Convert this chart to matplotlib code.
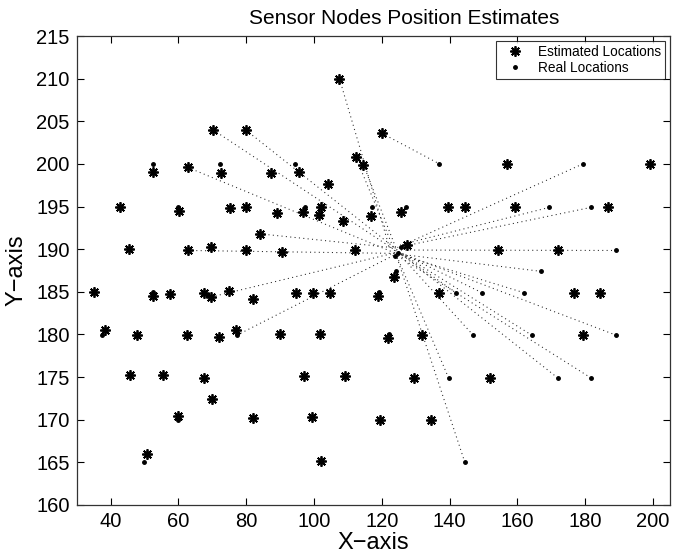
import matplotlib
matplotlib.use("Agg")
import matplotlib.pyplot as plt

plt.rcParams['font.family'] = ['Liberation Sans', 'DejaVu Sans']

# Estimated locations (asterisks)
est_x = [107.5, 120.0, 70.2, 79.8, 52.6, 62.7, 72.5, 87.3, 95.6, 112.3, 114.6, 104.0, 157.0, 199.2,
         42.7, 60.1, 75.3, 80.0, 89.2, 96.7, 102.2, 101.4, 108.7, 116.8, 125.8, 139.4, 144.5, 159.4, 186.8,
         45.3, 62.7, 69.7, 80.0, 84.0, 90.7, 112.1, 127.5, 154.4, 171.9, 123.6,
         35.1, 52.4, 57.5, 67.5, 69.7, 74.8, 82.1, 94.8, 99.7, 104.6, 119.0, 136.8, 176.7, 184.3,
         38.5, 47.9, 62.4, 72.1, 77.0, 90.0, 101.7, 121.7, 131.9, 179.2,
         45.6, 55.4, 67.5, 69.9, 97.0, 109.2, 129.5, 151.8,
         59.8, 82.1, 99.5, 119.6, 134.4, 50.7, 102.2]
est_y = [210.0, 203.6, 204.0, 204.0, 199.0, 199.6, 198.9, 198.9, 199.1, 200.8, 199.9, 197.6, 200.0, 200.0,
         195.0, 194.5, 194.8, 194.9, 194.3, 194.4, 195.0, 194.0, 193.3, 193.9, 194.4, 195.0, 194.9, 194.9, 194.9,
         190.0, 189.85, 190.2, 189.85, 191.8, 189.7, 189.9, 190.5, 189.85, 189.85, 186.7,
         185.0, 184.5, 184.7, 184.9, 184.4, 185.1, 184.2, 184.9, 184.9, 184.9, 184.5, 184.9, 184.9, 184.9,
         180.5, 179.9, 179.9, 179.7, 180.5, 180.0, 180.1, 179.6, 179.9, 179.9,
         175.2, 175.2, 174.9, 172.4, 175.1, 175.1, 174.9, 174.9,
         170.4, 170.2, 170.3, 170.0, 170.0, 166.0, 165.2]

# Real locations (dots)
real_x = [52.4, 72.3, 94.3, 137.0, 179.3, 60.0, 97.3, 117.2, 127.1, 169.4, 181.7,
          189.2, 167.0, 124.3, 52.4, 119.3, 141.9, 149.5, 161.9,
          37.5, 77.2, 122.0, 147.0, 164.3, 189.2,
          139.7, 171.9, 181.7, 60.0, 49.9, 144.5,
          124.8, 125.6, 123.9]
real_y = [200.0, 200.0, 200.0, 200.0, 200.0, 195.0, 194.9, 194.9, 195.0, 194.9, 194.9,
          189.85, 187.4, 187.4, 185.0, 185.0, 184.9, 184.9, 184.9,
          179.9, 179.9, 180.0, 179.9, 179.9, 179.9,
          174.9, 174.9, 174.9, 170.0, 165.0, 165.0,
          189.6, 190.2, 189.2]

# Dotted error links: outer end -> inner end
link_x0 = [107.5, 70.2, 79.8, 62.7, 112.3, 114.6, 62.7, 84.0, 69.7, 77.2, 120.0,
           179.3, 169.4, 181.7, 189.2, 167.0, 141.9, 149.5, 161.9, 147.0, 164.3, 189.2,
           139.7, 171.9, 181.7, 144.5]
link_y0 = [210.0, 204.0, 204.0, 199.6, 200.8, 199.9, 189.85, 191.8, 184.4, 179.9, 203.6,
           200.0, 194.9, 194.9, 189.85, 187.4, 184.9, 184.9, 184.9, 179.9, 179.9, 179.9,
           174.9, 174.9, 174.9, 165.0]
link_x1 = [122.4, 125.0, 124.6, 125.4, 123.8, 124.2, 124.8, 125.2, 125.3, 124.6, 137.0,
           125.2, 125.4, 124.6, 124.8, 125.6, 125.0, 124.4, 125.8, 125.2, 124.9, 125.1,
           124.2, 125.5, 124.7, 124.0]
link_y1 = [190.0, 189.6, 189.9, 189.3, 189.8, 190.1, 189.5, 190.1, 189.7, 189.5, 200.0,
           190.3, 190.5, 190.2, 189.9, 189.4, 189.6, 189.8, 189.3, 189.4, 189.7, 189.6,
           189.4, 189.5, 189.2, 189.6]

x_ticks = [40, 60, 80, 100, 120, 140, 160, 180, 200]
y_ticks = [160, 165, 170, 175, 180, 185, 190, 195, 200, 205, 210, 215]

fig = plt.figure(figsize=(6.81, 5.53), dpi=100)
ax = fig.add_axes([0.1126, 0.0868, 0.9838 - 0.1126, 0.9349 - 0.0868])

for x0, y0, x1, y1 in zip(link_x0, link_y0, link_x1, link_y1):
    ax.plot([x0, x1], [y0, y1], color='#222222', lw=0.75, linestyle=(0, (1, 3.2)))

ax.plot(est_x, est_y, linestyle='none', marker=(8, 2, 0), markersize=7.5,
        markeredgewidth=1.3, color='black', label='Estimated Locations')
ax.plot(real_x, real_y, linestyle='none', marker='.', markersize=5,
        color='black', label='Real Locations')

ax.set_xlim(30, 205)
ax.set_ylim(160, 215)
ax.set_xticks(x_ticks)
ax.set_yticks(y_ticks)
ax.tick_params(direction='in', top=True, right=True, length=5, width=0.8, labelsize=14.5, pad=5)
for s in ax.spines.values():
    s.set_linewidth(0.9)
    s.set_color('#333333')

ax.set_xlabel('X\u2212axis', fontsize=17, labelpad=1)
ax.set_ylabel('Y\u2212axis', fontsize=17, labelpad=6)
fig.text(404 / 681, 1 - 18 / 553, 'Sensor Nodes Position Estimates', fontsize=15,
         ha='center', va='center')

leg = ax.legend(loc='upper right', fontsize=9.8, frameon=True, fancybox=False,
                edgecolor='black', borderpad=0.3, labelspacing=0.15, handlelength=2.2,
                handletextpad=0.6, borderaxespad=0.35)
leg.get_frame().set_linewidth(0.8)

fig.savefig('out.png', dpi=100)
